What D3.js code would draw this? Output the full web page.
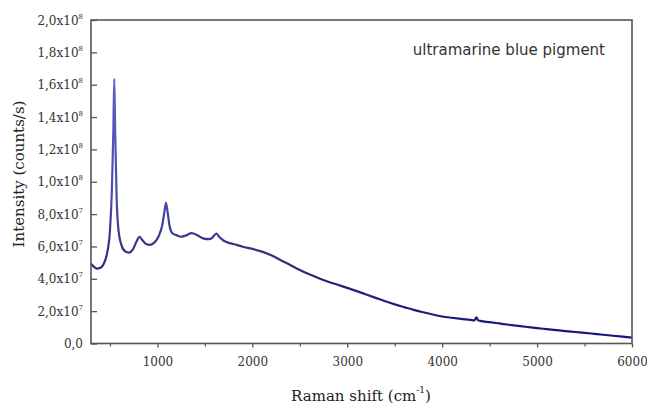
<!DOCTYPE html>
<html>
<head>
<meta charset="utf-8">
<script src="https://cdn.jsdelivr.net/npm/d3@7"></script>
<style>
  html, body { margin: 0; padding: 0; background: #fff; }
  svg { display: block; }
</style>
</head>
<body>
<svg id="chart" width="647" height="409"></svg>
<script>
// Raman spectrum of ultramarine blue pigment
const ramanShift = [
  300, 330, 360, 400, 440, 470, 500, 520, 535, 545, 555, 570, 590, 620, 660, 700,
  740, 780, 810, 840, 880, 920, 960, 1010, 1050, 1075, 1090, 1105, 1130, 1160, 1200,
  1250, 1300, 1360, 1420, 1480, 1540, 1580, 1620, 1650, 1700, 1750, 1800, 1900, 2000, 2100,
  2200, 2300, 2400, 2500, 2600, 2700, 2800, 2900, 3000, 3100, 3200, 3300, 3400, 3500,
  3600, 3700, 3800, 3900, 4000, 4100, 4200, 4300, 4340, 4360, 4380, 4400, 4500, 4600,
  4700, 4800, 4900, 5000, 5100, 5200, 5300, 5400, 5500, 5600, 5700, 5800, 5900, 6000
];
// intensity in units of 10^7 counts/s
const intensity = [
  4.94, 4.75, 4.63, 4.68, 5.0, 5.6, 7.0, 9.5, 13.0, 16.36, 13.0, 9.0, 7.0, 6.1, 5.7, 5.62,
  5.8, 6.3, 6.6, 6.4, 6.15, 6.1, 6.2, 6.6, 7.3, 8.2, 8.7, 8.2, 7.2, 6.8, 6.7,
  6.6, 6.68, 6.82, 6.7, 6.5, 6.45, 6.55, 6.8, 6.6, 6.35, 6.22, 6.15, 5.98, 5.85, 5.68,
  5.45, 5.15, 4.85, 4.55, 4.28, 4.04, 3.82, 3.63, 3.44, 3.24, 3.03, 2.82, 2.61, 2.42,
  2.25, 2.08, 1.93, 1.79, 1.67, 1.59, 1.52, 1.46, 1.43, 1.62, 1.43, 1.40, 1.32, 1.24,
  1.16, 1.09, 1.02, 0.95, 0.89, 0.83, 0.77, 0.71, 0.66, 0.60, 0.54, 0.48, 0.42, 0.36
];
const xTicks = [1000, 2000, 3000, 4000, 5000, 6000];
const xMinorTicks = [500, 1500, 2500, 3500, 4500, 5500];
const yTickMantissa = ["0,0", "2,0", "4,0", "6,0", "8,0", "1,0", "1,2", "1,4", "1,6", "1,8", "2,0"];
const yTickExponent = ["", "7", "7", "7", "7", "8", "8", "8", "8", "8", "8"];
const yTicks = [0, 2, 4, 6, 8, 10, 12, 14, 16, 18, 20];

const serif = "'DejaVu Serif', serif";
const sans = "'DejaVu Sans', sans-serif";

const svg = d3.select("#chart");
const plotLeft = 91, plotRight = 632, plotTop = 20, plotBottom = 343.5;

const x = d3.scaleLinear().domain([300, 6000]).range([plotLeft, plotRight]);
const y = d3.scaleLinear().domain([0, 20]).range([plotBottom, plotTop]);

const data = ramanShift.map((s, i) => ({ s, v: intensity[i] }));

// line colour: lighter violet-blue high up, dark navy low down
const defs = svg.append("defs");
const grad = defs.append("linearGradient")
  .attr("id", "lineGrad").attr("gradientUnits", "userSpaceOnUse")
  .attr("x1", 0).attr("x2", 0).attr("y1", y(16)).attr("y2", y(0));
grad.append("stop").attr("offset", "0").attr("stop-color", "#5d5dc8");
grad.append("stop").attr("offset", "0.45").attr("stop-color", "#4a4aa8");
grad.append("stop").attr("offset", "0.7").attr("stop-color", "#2a2a7e");
grad.append("stop").attr("offset", "1").attr("stop-color", "#14147a");

const line = d3.line()
  .x(d => x(d.s))
  .y(d => y(d.v))
  .curve(d3.curveMonotoneX);

svg.append("path")
  .datum(data)
  .attr("d", line)
  .attr("fill", "none")
  .attr("stroke", "url(#lineGrad)")
  .attr("stroke-width", 2.2)
  .attr("stroke-linejoin", "round");

// frame
const axisColor = "#555";
svg.append("rect")
  .attr("x", plotLeft).attr("y", plotTop)
  .attr("width", plotRight - plotLeft).attr("height", plotBottom - plotTop)
  .attr("fill", "none").attr("stroke", axisColor).attr("stroke-width", 1.6);

// x axis ticks (pointing outward)
const xAxis = d3.axisBottom(x).tickValues(xTicks).tickSize(4).tickPadding(3).tickFormat(d3.format("d"));
const gx = svg.append("g").attr("transform", `translate(0,${plotBottom})`).call(xAxis);
gx.select(".domain").remove();
gx.selectAll(".tick line").attr("stroke", axisColor).attr("stroke-width", 1.3);
gx.selectAll(".tick text")
  .attr("font-family", serif)
  .attr("font-size", 12).attr("fill", "#333")
  .attr("y", 22.5).attr("dy", null);
const gxm = svg.append("g").attr("transform", `translate(0,${plotBottom})`)
  .call(d3.axisBottom(x).tickValues(xMinorTicks).tickSize(3).tickFormat(""));
gxm.select(".domain").remove();
gxm.selectAll(".tick line").attr("stroke", axisColor).attr("stroke-width", 1.2);

// y axis ticks (pointing inward)
const yAxis = d3.axisLeft(y).tickValues(yTicks).tickSize(-6).tickFormat("");
const gy = svg.append("g").attr("transform", `translate(${plotLeft},0)`).call(yAxis);
gy.select(".domain").remove();
gy.selectAll(".tick line").attr("stroke", axisColor).attr("stroke-width", 1.3);

// y tick labels with superscript exponents
const yLab = svg.append("g")
  .attr("font-family", serif)
  .attr("fill", "#333");
yTicks.forEach((t, i) => {
  const txt = yLab.append("text")
    .attr("x", 83).attr("y", y(t) + 4.5)
    .attr("text-anchor", "end")
    .attr("font-size", 12);
  if (yTickExponent[i]) {
    txt.append("tspan").text(yTickMantissa[i] + "x10");
    txt.append("tspan").attr("font-size", 7).attr("dy", -6).text(yTickExponent[i]);
  } else {
    txt.text(yTickMantissa[i]);
  }
});

// axis titles
const xt = svg.append("text")
  .attr("x", 361).attr("y", 401)
  .attr("text-anchor", "middle")
  .attr("font-family", serif)
  .attr("font-size", 15).attr("fill", "#222");
xt.append("tspan").text("Raman shift (cm");
xt.append("tspan").attr("font-size", 9).attr("dy", -8).text("-1");
xt.append("tspan").attr("dy", 8).text(")");

svg.append("text")
  .attr("transform", `translate(24,174) rotate(-90)`)
  .attr("text-anchor", "middle")
  .attr("font-family", serif)
  .attr("font-size", 15).attr("fill", "#222")
  .text("Intensity (counts/s)");

// sample label
svg.append("text")
  .attr("x", 605).attr("y", 55)
  .attr("text-anchor", "end")
  .attr("font-family", sans)
  .attr("font-size", 15).attr("fill", "#333")
  .text("ultramarine blue pigment");
</script>
</body>
</html>
